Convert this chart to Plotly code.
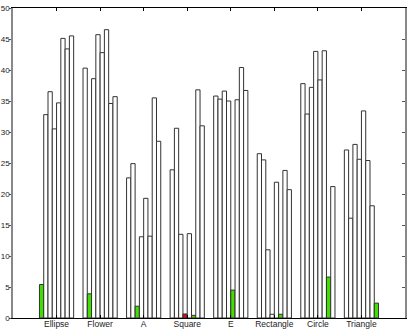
import plotly.graph_objects as go

categories = ["Ellipse", "Flower", "A", "Square", "E", "Rectangle", "Circle", "Triangle"]

# one series per template, values per test shape (category)
ellipse_tpl = [5.4, 40.3, 22.6, 23.9, 35.8, 26.5, 37.8, 27.1]
flower_tpl = [32.8, 3.9, 24.9, 30.6, 35.3, 25.5, 32.9, 16.1]
a_tpl = [36.5, 38.6, 1.9, 13.5, 36.6, 11.0, 37.2, 28.0]
square_tpl = [30.5, 45.7, 13.1, 0.65, 35.0, 0.6, 43.0, 25.6]
e_tpl = [34.7, 42.8, 19.3, 13.6, 4.5, 21.9, 38.4, 33.4]
rectangle_tpl = [45.1, 46.5, 13.2, 0.43, 35.2, 0.6, 43.1, 25.4]
circle_tpl = [43.4, 34.6, 35.5, 36.8, 40.4, 23.8, 6.6, 18.1]
triangle_tpl = [45.5, 35.7, 28.5, 31.0, 36.7, 20.7, 21.2, 2.4]

series = [ellipse_tpl, flower_tpl, a_tpl, square_tpl, e_tpl,
          rectangle_tpl, circle_tpl, triangle_tpl]

GREEN = "#3fe000"
RED = "#d81010"

# colour: diagonal bar green if it is the smallest in its group, else red
# and the smallest one gets green
colors = [["white"] * len(categories) for _ in series]
for i in range(len(categories)):
    row = [s[i] for s in series]
    m = min(row)
    if row[i] <= m:
        colors[i][i] = GREEN
    else:
        colors[i][i] = RED
        colors[row.index(m)][i] = GREEN

fig = go.Figure()
for j, s in enumerate(series):
    fig.add_trace(go.Bar(x=categories, y=s, marker_color=colors[j],
                         marker_line_color="#333333", marker_line_width=1,
                         showlegend=False, hoverinfo="skip"))

# invisible helper so the right axis (inward ticks) is drawn
fig.add_trace(go.Scatter(x=[categories[0]], y=[0], yaxis="y2", mode="markers",
                         marker_opacity=0, showlegend=False, hoverinfo="skip"))

fig.update_layout(
    width=409, height=331,
    margin=dict(l=13, r=4, t=8, b=13, autoexpand=False),
    paper_bgcolor="white", plot_bgcolor="white",
    barmode="group", bargap=0.215, bargroupgap=0,
    font=dict(family="Liberation Sans, Arial", size=8.5, color="#222"),
    xaxis=dict(type="category", range=[-1, 8], showline=True, linecolor="black",
               linewidth=1, mirror="ticks", ticks="inside", ticklen=3,
               tickcolor="black", showgrid=False, zeroline=False,
               automargin=False, ticklabelstandoff=-2),
    yaxis=dict(range=[0, 50], dtick=5, showline=True, linecolor="#888",
               linewidth=1.5, ticks="outside", ticklen=2, tickcolor="#555",
               tickfont=dict(size=8), showgrid=False, zeroline=False,
               automargin=False, ticklabelstandoff=-2),
    yaxis2=dict(overlaying="y", side="right", range=[0, 50], dtick=5,
                showline=True, linecolor="#888", linewidth=1.5,
                ticks="inside", ticklen=3, tickcolor="#555",
                showticklabels=False, showgrid=False, zeroline=False,
                automargin=False),
)

# page body has a default margin; drop it so the figure fills the window
fig.write_html("out.html", config={"displayModeBar": False},
               post_script="document.body.style.margin='0';")
